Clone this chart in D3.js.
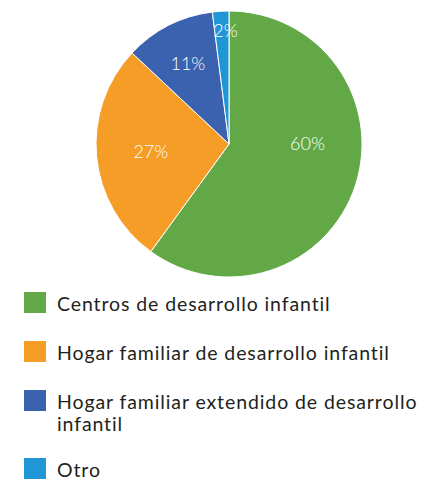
<!DOCTYPE html>
<html><head><meta charset="utf-8">
<script src="https://cdn.jsdelivr.net/npm/d3@7"></script>
<style>html,body{margin:0;padding:0;background:#fff;}</style>
</head><body>
<svg id="chart" width="440" height="481"></svg>
<script>
const categories = ["Centros de desarrollo infantil","Hogar familiar de desarrollo infantil","Hogar familiar extendido de desarrollo infantil","Otro"];
const legendLines = [["Centros de desarrollo infantil"],["Hogar familiar de desarrollo infantil"],["Hogar familiar extendido de desarrollo","infantil"],["Otro"]];
const values = [60, 27, 11, 2];
const labels = ["60%","27%","11%","2%"];
const colors = ["#62A846","#F59D26","#3A62AE","#2196D6"];

const svg = d3.select("#chart");
const cx = 229, cy = 144, r = 133;
const g = svg.append("g").attr("transform", `translate(${cx},${cy})`);
const pie = d3.pie().sort(null).value(d => d);
const arcs = pie(values);
const arc = d3.arc().innerRadius(0).outerRadius(r);
const color = d3.scaleOrdinal().domain(d3.range(values.length)).range(colors);

g.selectAll("path").data(arcs).enter().append("path")
  .attr("d", arc).attr("fill", (d,i) => color(i))
  .attr("stroke", "#fff").attr("stroke-width", 1);

const total = d3.sum(values);
function labelPos(d) {
  const frac = d.value / total;
  let a = (d.startAngle + d.endAngle) / 2;
  if (d.endAngle - d.startAngle > Math.PI && d.startAngle <= Math.PI/2 && d.endAngle >= Math.PI/2) a = Math.PI/2;
  if (frac < 0.05) a = (a + d.endAngle) / 2;
  const lr = frac > 0.2 ? 0.59*r : frac > 0.05 ? 0.68*r : 0.85*r;
  return [Math.sin(a)*lr, -Math.cos(a)*lr];
}
g.selectAll("text.lbl").data(arcs).enter().append("text")
  .attr("class","lbl")
  .attr("x", d => labelPos(d)[0]).attr("y", d => labelPos(d)[1])
  .attr("text-anchor","middle").attr("dy","0.35em")
  .attr("font-family","Lato, sans-serif").attr("font-weight",300)
  .attr("font-size", 18).attr("fill","#fff")
  .text((d,i) => labels[i]);

const legendY = [292, 341, 390, 458];
const lg = svg.append("g");
const items = lg.selectAll("g").data(categories).enter().append("g")
  .attr("transform", (d,i) => `translate(24,${legendY[i]})`);
items.append("rect").attr("width",22).attr("height",21).attr("fill",(d,i)=>color(i));
items.append("text").attr("x",33).attr("y",19)
  .attr("font-family","Lato, sans-serif").attr("font-size",19.5).attr("letter-spacing",0.9).attr("fill","#231F20")
  .selectAll("tspan").data((d,i)=>legendLines[i]).enter().append("tspan")
  .attr("x",33).attr("dy",(d,j)=> j===0 ? 0 : 22).text(d=>d);
</script>
</body></html>
